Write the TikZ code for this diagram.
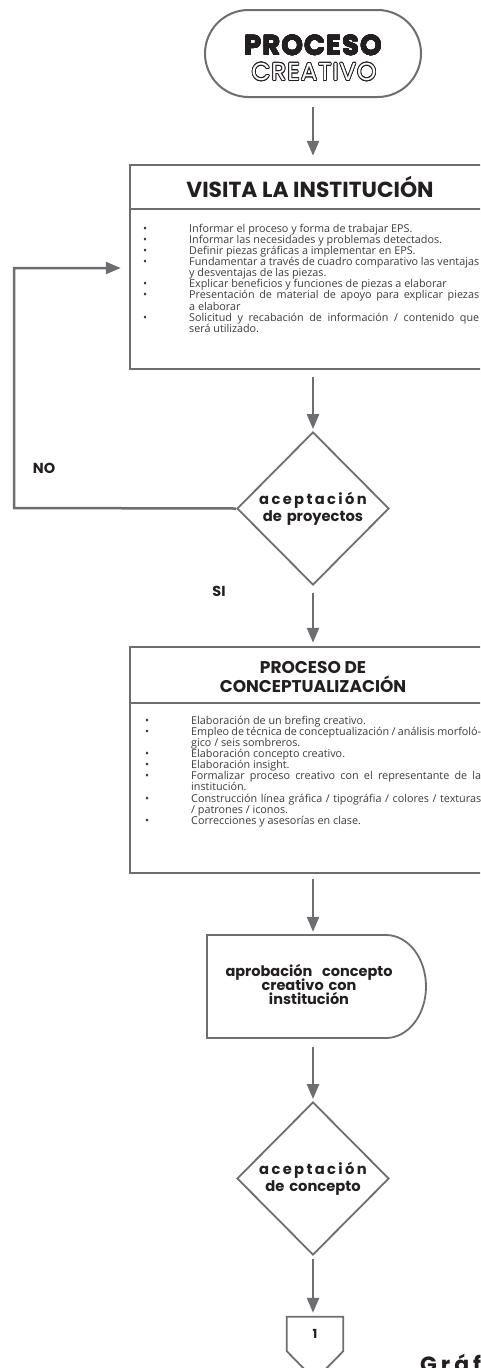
\documentclass[tikz,border=0pt]{standalone}
\usepackage{fontspec}
\setmainfont{Open Sans}
\newfontfamily\popfont{Poppins}
\newfontfamily\popspaced{Poppins}[LetterSpace=16]
\newfontfamily\popgraf{Poppins}[LetterSpace=18]
\newfontfamily\popwide{Poppins}[LetterSpace=4]
\usepackage{contour}
\contourlength{0.75pt}
\usetikzlibrary{arrows.meta,shapes.geometric,shapes.misc}
\definecolor{linegray}{HTML}{6D6E71}
\definecolor{inkblack}{HTML}{231F20}
\definecolor{bodygray}{HTML}{3C3C3E}
\newcommand{\bitem}[1]{\noindent\llap{\makebox[46pt][l]{\textbullet}}#1\par}
\newcommand{\fullline}[1]{\makebox[\linewidth][s]{#1}\newline}
\newcommand{\tightlines}{\lineskiplimit=-100pt\relax}
\newcommand{\heavy}[1]{{\contourlength{0.25pt}\contour{inkblack}{#1}}}
\tikzset{
  shapeline/.style={draw=linegray, line width=2.5pt},
  diamline/.style={draw=linegray, line width=1.8pt},
  stagebox/.style={shapeline, rectangle, minimum width=366pt, inner sep=0pt},
  arr/.style={draw=linegray, line width=2.5pt, -{Triangle[length=15pt,width=12pt]}},
  fbline/.style={draw=linegray, line width=2.5pt},
  headtitle/.style={text=inkblack, font=\popfont\bfseries\fontsize{21.8}{22}\selectfont, inner sep=0pt, anchor=base},
  subtitle/.style={text=inkblack, font=\popfont\bfseries\fontsize{17}{19}\selectfont, inner sep=0pt, anchor=base},
  bodytext/.style={text=bodygray, font=\fontsize{10.8}{11.15}\selectfont, text width=290pt, align=justify, inner sep=0pt},
  decision/.style={diamline, diamond, minimum width=152pt, minimum height=153pt, inner sep=0pt, text=inkblack},
  dtext/.style={text=inkblack, text width=130pt, align=center, inner sep=0pt, font=\popfont\bfseries\fontsize{14.7}{17}\selectfont},
  lab/.style={text=inkblack, font=\popfont\bfseries\fontsize{14.5}{14.5}\selectfont, inner sep=0pt}
}
\begin{document}
\begin{tikzpicture}[x=1pt,y=-1pt]
\useasboundingbox (0,0) rectangle (480,1368);
\clip (0,0) rectangle (480,1368);
\fill[white] (0,0) rectangle (480,1368);

% start terminator
\node[shapeline, line width=2pt, rounded rectangle, minimum width=216pt, minimum height=87pt, inner sep=0pt] (start) at (313,53.5) {};
\node[text=inkblack, inner sep=0pt, anchor=base, font=\popwide\bfseries\fontsize{27.5}{28}\selectfont] (startp) at (313,55) {\heavy{PROCESO}};
\node[text=white, inner sep=0pt, anchor=base, font=\popwide\fontsize{24.5}{24}\selectfont] (startc) at (314,80.5) {\contour{inkblack}{CREATIVO}};

% box 1
\node[stagebox, minimum height=204pt] (box1) at (313,267) {};
\draw[shapeline] (130,209) -- (496,209);
\node[headtitle] (box1t) at (310,197.5) {VISITA LA INSTITUCIÓN};
\node[bodytext, anchor=base west] (box1b) at (189,232) {\tightlines%
\bitem{Informar el proceso y forma de trabajar EPS.}
\bitem{Informar las necesidades y problemas detectados.}
\bitem{Definir piezas gráficas a implementar en EPS.}
\bitem{\fullline{Fundamentar a través de cuadro comparativo las ventajas}y desventajas de las piezas.}
\bitem{Explicar beneficios y funciones de piezas a elaborar}
\bitem{\fullline{Presentación de material de apoyo para explicar piezas}a elaborar}
\bitem{\fullline{Solicitud y recabación de información / contenido que}será utilizado.}
};

\draw[arr, shorten <=9pt, shorten >=8pt] (start) -- (box1);

% decision 1
\node[decision] (d1) at (313,508.5) {};
\node[dtext] (d1t) at (313,508.5) {{\popspaced aceptación}\\de proyectos};
\draw[arr, shorten <=7pt, shorten >=2pt] (box1) -- (d1);

% feedback NO
\coordinate (fbb) at (14,508);
\coordinate (fbt) at (14,268);
\draw[fbline, -{Triangle[length=15pt,width=12pt]}, shorten >=8pt] (d1.west) -- (fbb) -- (fbt) -- (box1.west |- fbt);
\node[lab] (nolab) at (44,468) {NO};
\node[lab] (silab) at (219,591) {SI};

% box 2
\node[stagebox, minimum height=226pt] (box2) at (313,760) {};
\draw[shapeline] (130,703) -- (496,703);
\node[subtitle] (box2t1) at (313,673.5) {PROCESO DE};
\node[subtitle] (box2t2) at (313,692.5) {CONCEPTUALIZACIÓN};
\node[bodytext, anchor=base west] (box2b) at (191,724) {\tightlines%
\bitem{Elaboración de un brefing creativo.}
\bitem{\fullline{Empleo de técnica de conceptualización / análisis morfoló-}gico / seis sombreros.}
\bitem{Elaboración concepto creativo.}
\bitem{Elaboración insight.}
\bitem{\fullline{Formalizar proceso creativo con el representante de la}institución.}
\bitem{\fullline{Construcción línea gráfica / tipográfia / colores / texturas}/ patrones / iconos.}
\bitem{Correcciones y asesorías en clase.}
};
\draw[arr, shorten <=7pt, shorten >=3pt] (d1) -- (box2);

% approval (delay shape)
\node[rectangle, minimum width=219pt, minimum height=103pt, inner sep=0pt] (apr) at (316.5,986.5) {};
\draw[diamline] (207,935) -- (386,935) arc[start angle=90, end angle=-90, x radius=40pt, y radius=51.5pt] -- (207,1038) -- cycle;
\node[text=inkblack, text width=200pt, align=center, inner sep=0pt, font=\popfont\bfseries\fontsize{14.5}{14}\selectfont] (aprt) at (309,984)
  {\tightlines aprobación\ \ concepto\\creativo con\\institución};
\draw[arr, shorten <=5pt, shorten >=3pt] (box2.south) -- (box2.south |- apr.north);

% decision 2
\node[decision] (d2) at (313,1178.5) {};
\node[dtext] (d2t) at (313,1178.5) {{\popspaced aceptación}\\de concepto};
\draw[arr, shorten <=9pt, shorten >=2pt] (d2 |- apr.south) -- (d2);

% off-page connector
\node[rectangle, minimum width=56pt, minimum height=34pt, inner sep=0pt, text=inkblack, font=\popfont\bfseries\fontsize{12.5}{12}\selectfont] (pent) at (315,1334) {1};
\coordinate (ptip) at (315,1380);
\draw[diamline] (pent.north west) -- (pent.north east) -- (pent.south east) -- (ptip) -- (pent.south west) -- cycle;
\draw[arr, shorten <=3pt, shorten >=4pt] (d2.south) -- (d2.south |- pent.north);

% caption (cut at page edge)
\node[anchor=base west, inner sep=0pt, text=inkblack, font=\popgraf\bfseries\fontsize{22}{22}\selectfont] (graf) at (420,1372) {Gráfica};
\end{tikzpicture}
\end{document}
